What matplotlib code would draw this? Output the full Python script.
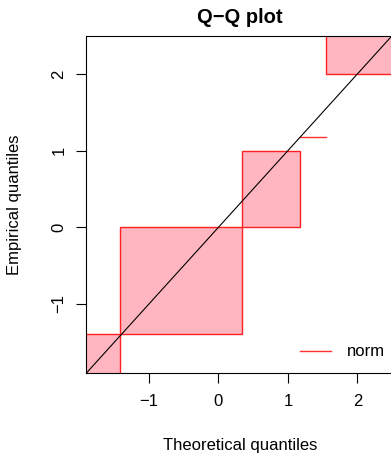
import matplotlib.pyplot as plt
from matplotlib.patches import Rectangle
from matplotlib.lines import Line2D

plt.rcParams['font.family'] = ['Liberation Sans', 'DejaVu Sans']

# interval bounds (theoretical on x, empirical on y); +-3 stands for open ends
theo_lo = [-3.0, -1.417, 0.338, 1.17, 1.547]
theo_hi = [-1.417, 0.338, 1.17, 1.547, 3.0]
emp_lo = [-3.0, -1.39, 0.0, 1.176, 2.0]
emp_hi = [-1.39, 0.0, 1.0, 1.176, 3.0]
xticks = [-1, 0, 1, 2]
yticks = [-1, 0, 1, 2]

W, H = 391, 454
fig = plt.figure(figsize=(W / 100, H / 100), dpi=100)
left, right, top, bottom = 86, 394, 36, 373
ax = fig.add_axes([left / W, 1 - bottom / H, (right - left) / W, (bottom - top) / H])

xpx = 69.5   # px per unit, x
ypx = 76.7   # px per unit, y
x0 = -1.906
y0 = -1.90
ax.set_xlim(x0, x0 + (right - left) / xpx)
ax.set_ylim(y0, y0 + (bottom - top) / ypx)

for a, b, c, d in zip(theo_lo, theo_hi, emp_lo, emp_hi):
    if c == d:
        ax.plot([a, b], [c, c], color='#ff3030', lw=1.0)
    else:
        ax.add_patch(Rectangle((a, c), b - a, d - c, facecolor='#ffb6c1',
                               edgecolor='#ff2020', lw=1.0))

ax.plot([-3, 3], [-3, 3], color='black', lw=0.8)

fs = 12.0
ax.set_xticks(xticks)
ax.set_yticks(yticks)
ax.set_xticklabels(['\u22121', '0', '1', '2'])
ax.set_yticklabels(['\u22121', '0', '1', '2'], rotation=90, va='center')
ax.tick_params(direction='out', length=7, width=0.8, labelsize=fs)
ax.tick_params(axis='x', pad=8)
ax.tick_params(axis='y', pad=7)
for s in ax.spines.values():
    s.set_linewidth(0.8)

cx = (left + right) / 2
cy = (top + bottom) / 2
fig.text(cx / W, 1 - 450 / H, 'Theoretical quantiles', fontsize=fs,
         ha='center', va='baseline')
fig.text(15 / W, 1 - cy / H, 'Empirical quantiles', fontsize=fs,
         ha='center', va='center', rotation=90)
fig.text(cx / W, 1 - 23 / H, 'Q\u2212Q plot', fontsize=14.5,
         fontweight='bold', ha='center', va='baseline')

h = Line2D([], [], color='#ff3030', lw=1.0)
fig.legend([h], ['norm'], loc='center left', frameon=False, fontsize=fs,
           bbox_to_anchor=(300 / W, 1 - 352 / H), handlelength=1.86,
           handletextpad=0.96, borderaxespad=0, borderpad=0)

plt.savefig('out.png', dpi=100)
